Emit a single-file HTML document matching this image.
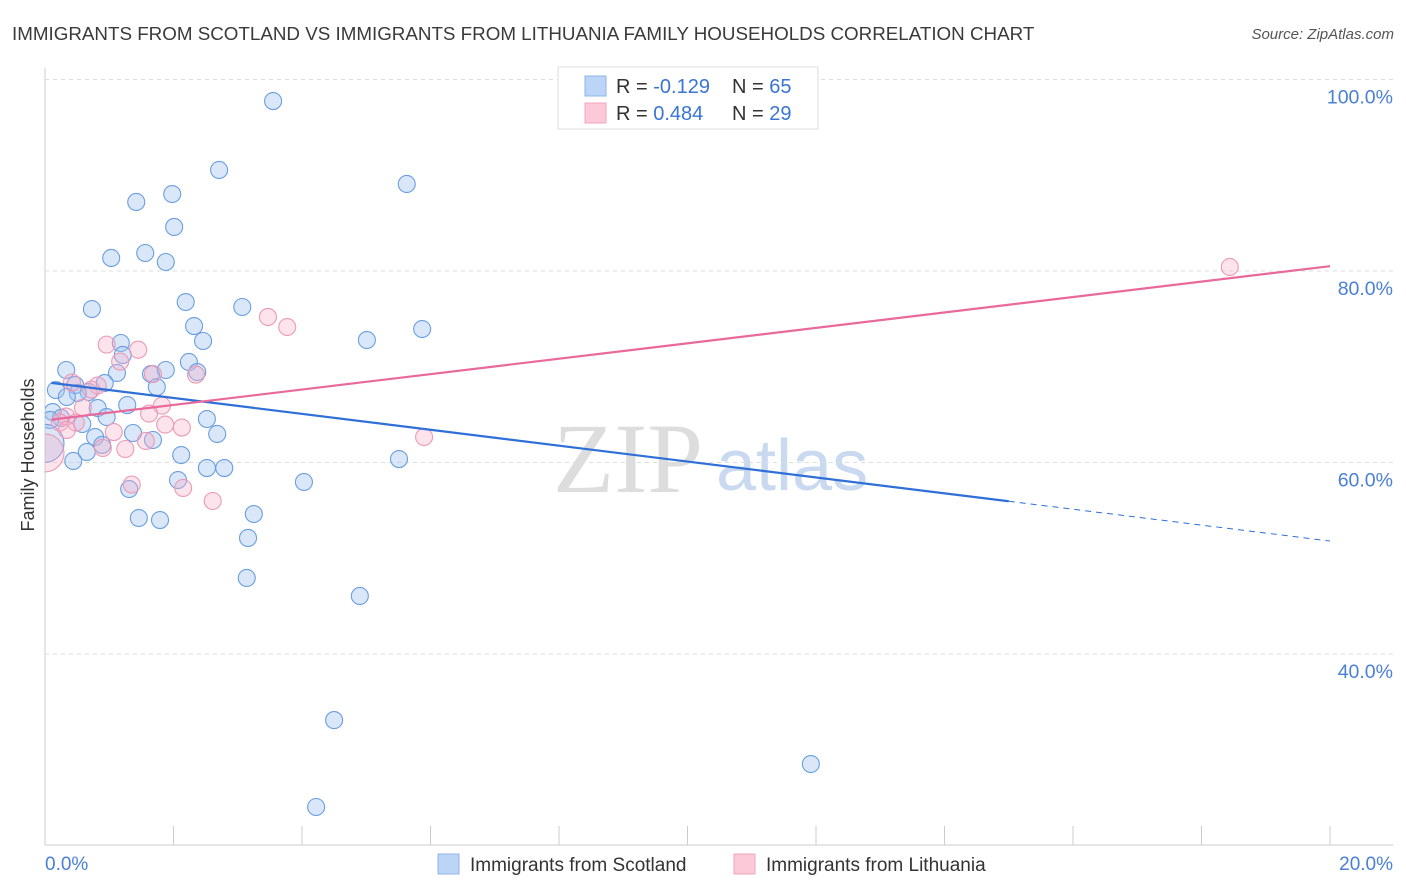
<!DOCTYPE html>
<html><head><meta charset="utf-8"><style>
body{margin:0;background:#fff;font-family:"Liberation Sans",sans-serif;}
svg{display:block}
</style></head><body>
<svg id="chart" width="1406" height="892">
<defs><clipPath id="plotclip"><rect x="45" y="60" width="1360" height="786"/></clipPath></defs>
<text x="12" y="40" font-size="18.8" fill="#3a3a3a">IMMIGRANTS FROM SCOTLAND VS IMMIGRANTS FROM LITHUANIA FAMILY HOUSEHOLDS CORRELATION CHART</text>
<text x="1394" y="39" font-size="15" font-style="italic" fill="#555" text-anchor="end">Source: ZipAtlas.com</text>
<g><text x="553" y="492" font-size="100" font-family="Liberation Serif,serif" fill="#ddd">ZIP</text><text x="716" y="490" font-size="72" fill="#c9d9f0">atlas</text></g>
<g id="grid"></g><g id="pts" clip-path="url(#plotclip)"></g><g id="lines"></g>
<text transform="translate(34,455) rotate(-90)" font-size="18" fill="#333" text-anchor="middle">Family Households</text>
<text x="45" y="870" font-size="19" fill="#4a7fd6">0.0%</text>
<text x="1393" y="870" font-size="19" fill="#4a7fd6" text-anchor="end">20.0%</text>
<g>
<rect x="558" y="67" width="260" height="62" fill="#fff" stroke="#ddd"/>
<rect x="585" y="76" width="21" height="20" fill="#bcd4f5" stroke="#8fb5ea"/>
<rect x="585" y="103" width="21" height="20" fill="#fcc9d8" stroke="#f0a5be"/>
<text x="616" y="93" font-size="20" fill="#333">R = <tspan fill="#3a74d4">-0.129</tspan></text>
<text x="732" y="93" font-size="20" fill="#333">N = <tspan fill="#3a74d4">65</tspan></text>
<text x="616" y="120" font-size="20" fill="#333">R = <tspan fill="#3a74d4"> 0.484</tspan></text>
<text x="732" y="120" font-size="20" fill="#333">N = <tspan fill="#3a74d4">29</tspan></text>
</g>
<g>
<rect x="438" y="854" width="21" height="20" fill="#bcd4f5" stroke="#8fb5ea"/>
<text x="470" y="871" font-size="19" fill="#333">Immigrants from Scotland</text>
<rect x="734" y="854" width="21" height="20" fill="#fcc9d8" stroke="#f0a5be"/>
<text x="766" y="871" font-size="19" fill="#333">Immigrants from Lithuania</text>
</g>
</svg>
<script>
const yTicks=[40,60,80,100];
const xTickCount=[0,1,2,3,4,5,6,7,8,9,10];
const scotX=[3.55,2.71,5.63,1.98,1.42,2.01,1.03,1.56,1.88,0.73,2.19,3.07,2.32,2.46,1.18,5.01,5.87,1.21,0.33,1.12,1.65,2.24,1.88,2.37,0.47,0.93,1.74,0.17,0.68,0.51,0.34,1.28,0.82,0.12,0.25,0.96,2.52,0.58,0.78,1.37,2.68,1.68,0.89,0.65,2.12,0.44,2.52,2.79,5.51,2.07,4.03,1.31,1.46,1.79,3.25,3.16,3.14,4.90,4.50,11.92,4.22,9.87,0.08,0.0];
const scotY=[97.75,90.55,89.09,88.04,87.21,84.60,81.36,81.88,80.94,76.03,76.76,76.24,74.25,72.69,72.48,72.79,73.94,71.23,69.66,69.35,69.24,70.50,69.66,69.45,68.09,68.30,67.88,67.57,67.36,67.26,66.84,66.00,65.69,65.27,64.65,64.75,64.54,64.02,62.66,63.08,62.98,62.35,61.83,61.10,60.78,60.16,59.42,59.42,60.36,58.17,57.96,57.23,54.20,53.99,54.62,52.12,47.94,46.06,33.10,28.51,24.02,100.0,64.44,62.0];
const lithX=[18.44,3.47,3.77,0.96,1.45,1.17,2.35,1.68,0.42,0.82,0.72,0.59,1.82,1.62,0.33,0.23,0.48,1.87,2.13,1.07,0.34,1.57,0.90,1.25,5.90,1.35,2.15,2.61,0.0];
const lithY=[80.42,75.20,74.15,72.31,71.78,70.54,69.18,69.24,68.35,68.04,67.62,65.73,65.94,65.11,64.80,64.17,64.17,63.96,63.65,63.18,63.40,62.25,61.52,61.41,62.66,57.70,57.34,55.98,61.0];
const scotTrend=[68.4,51.8];
const lithTrend=[64.4,80.5];
const NS="http://www.w3.org/2000/svg";
const X=v=>45+v/20*1285;
const Y=v=>79.5+(100-v)/20*191.5;
function mk(tag,attrs,parent){const e=document.createElementNS(NS,tag);for(const k in attrs)e.setAttribute(k,attrs[k]);parent.appendChild(e);return e;}
const grid=document.getElementById('grid');
let a=mk('line',{x1:45,y1:68,x2:45,y2:845,stroke:'#ccc'},grid);


a=mk('line',{x1:45,y1:845,x2:1393,y2:845,stroke:'#ccc'},grid);


yTicks.forEach(t=>{
 const l=mk('line',{x1:45,y1:Y(t),x2:1393,y2:Y(t),stroke:'#ddd','stroke-dasharray':'4,4'},grid);
 
 
 const tx=mk('text',{x:1393,y:Y(t)+24,'font-size':19.5,fill:'#4a7fd6','text-anchor':'end'},grid);
 tx.textContent=t.toFixed(1)+'%';
 
 
});
xTickCount.forEach(i=>{
 const l=mk('line',{x1:X(i*2),y1:826,x2:X(i*2),y2:845,stroke:'#ccc'},grid);
 
 
});
const pts=document.getElementById('pts');
function dots(xs,ys,fill,stroke,name){
 xs.forEach((x,i)=>{
  const big=(x===0);
  const c=mk('circle',{cx:X(x),cy:Y(ys[i]),r:big?19:8.5,fill:fill,stroke:stroke,'stroke-width':1.1},pts);
  
  
 });
}
dots(scotX,scotY,'rgba(160,196,240,0.4)','#6a9ee0','scotland-point');
dots(lithX,lithY,'rgba(245,175,200,0.35)','#ec9ab5','lithuania-point');
const lines=document.getElementById('lines');
const sy=x=>scotTrend[0]+(scotTrend[1]-scotTrend[0])*x/20;
let t=mk('line',{x1:X(0.1),y1:Y(sy(0.1)),x2:X(15),y2:Y(sy(15)),stroke:'#2f6fd8','stroke-width':2.2},lines);


t=mk('line',{x1:X(15),y1:Y(sy(15)),x2:X(20),y2:Y(sy(20)),stroke:'#2f6fd8','stroke-width':1,'stroke-dasharray':'6,5'},lines);


const ly=x=>lithTrend[0]+(lithTrend[1]-lithTrend[0])*x/20;
t=mk('line',{x1:X(0.1),y1:Y(ly(0.1)),x2:X(20),y2:Y(ly(20)),stroke:'#e8699a','stroke-width':2.2},lines);


</script>
</body></html>
